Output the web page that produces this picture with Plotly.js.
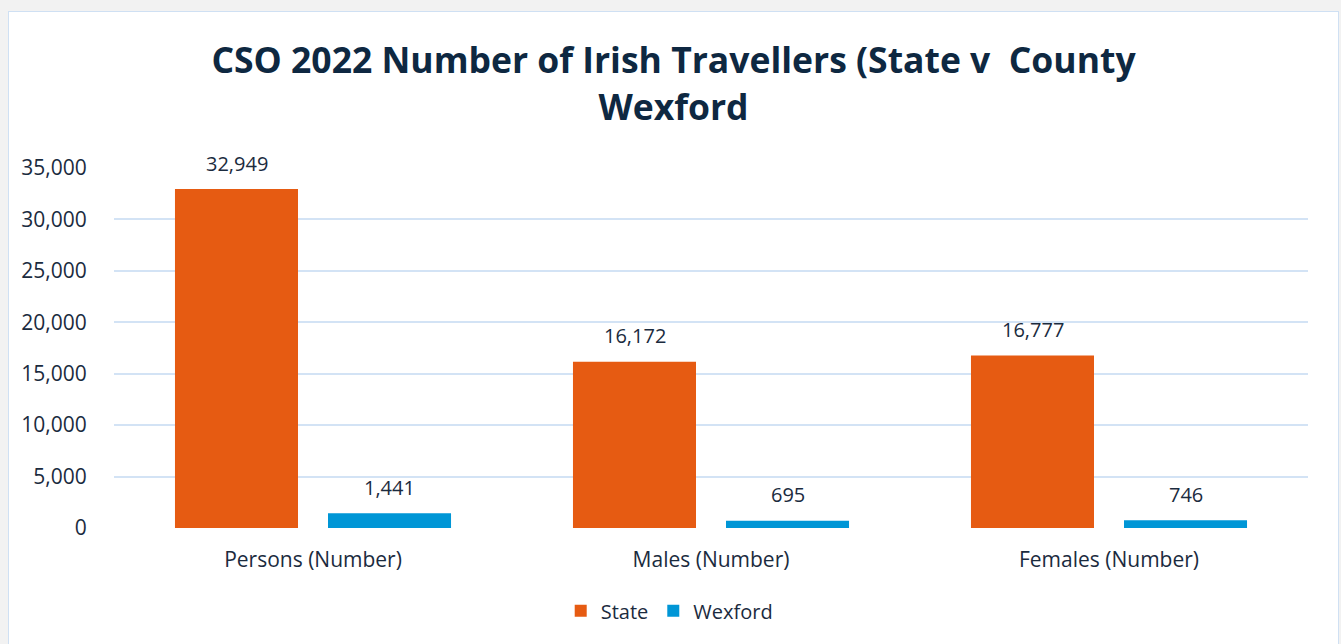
<!DOCTYPE html>
<html>
<head>
<meta charset="utf-8">
<script src="https://cdn.plot.ly/plotly-3.0.1.min.js"></script>
<style>
html,body{margin:0;padding:0;background:#f2f2f2;overflow:hidden;}
#box{position:absolute;left:8px;top:11px;width:1329px;height:640px;border:1px solid #cfe0f3;background:#fff;}
#chart{width:1329px;height:640px;}
</style>
</head>
<body>
<div id="box"><div id="chart"></div></div>
<script>
const categories = ["Persons (Number)", "Males (Number)", "Females (Number)"];
const stateValues = [32949, 16172, 16777];
const wexfordValues = [1441, 695, 746];
const yTickValues = [0, 5000, 10000, 15000, 20000, 25000, 30000, 35000];
const yTickLabels = ["0", "5,000", "10,000", "15,000", "20,000", "25,000", "30,000", "35,000"];

const textColor = "#1b2b3e";
const font = "Open Sans, sans-serif";
const fmt = v => v.toLocaleString("en-US");

const traces = [
  {type:"bar", name:"State", x:categories, y:stateValues,
   marker:{color:"#e65b12"}, hoverinfo:"y"},
  {type:"bar", name:"Wexford", x:categories, y:wexfordValues,
   marker:{color:"#0096d6"}, hoverinfo:"y"}
];

const annotations = [];
[[stateValues, -76.5], [wexfordValues, 76.5]].forEach(([vals, dx]) => {
  vals.forEach((v, i) => {
    annotations.push({x:categories[i], y:v, xref:"x", yref:"y", text:fmt(v),
      showarrow:false, xshift:dx, yshift:26, yanchor:"middle",
      font:{family:font, size:20, color:textColor}});
  });
});

const layout = {
  width:1329, height:640,
  paper_bgcolor:"#ffffff", plot_bgcolor:"#ffffff",
  margin:{l:105, r:30, t:156, b:124},
  barmode:"group", bargap:0.231, bargroupgap:0.196,
  title:{text:"CSO 2022 Number of Irish Travellers (State v  County<br>Wexford",
    x:0.5, xanchor:"center", y:0.904, yanchor:"middle", yref:"container",
    font:{family:font, size:35.5, color:"#0e2841", weight:"bold"}},
  xaxis:{type:"category", showgrid:false, zeroline:false, showline:false,
    ticks:"outside", ticklen:13, tickcolor:"rgba(0,0,0,0)",
    tickfont:{family:font, size:21, color:textColor}},
  yaxis:{range:[0, 35000], tickvals:yTickValues, ticktext:yTickLabels,
    showgrid:true, gridcolor:"#d3e3f5", gridwidth:2, zeroline:false, showline:false,
    ticks:"outside", ticklen:22, tickcolor:"rgba(0,0,0,0)",
    tickfont:{family:font, size:21, color:textColor}},
  legend:{orientation:"h", x:0.465, xanchor:"center", y:-0.23, yanchor:"middle",
    font:{family:font, size:20, color:textColor}, itemwidth:30, traceorder:"normal"},
  annotations:annotations,
  showlegend:true
};

Plotly.newPlot("chart", traces, layout, {displayModeBar:false, staticPlot:true});
</script>
</body>
</html>
